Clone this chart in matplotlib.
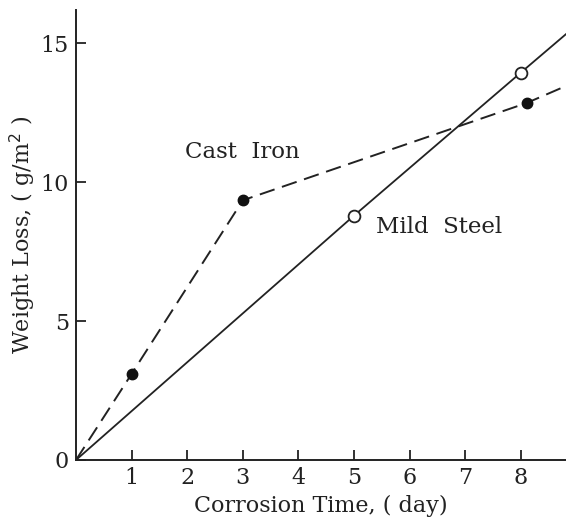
import matplotlib
matplotlib.use("Agg")
import matplotlib.pyplot as plt

# Data
cast_iron_x = [1, 3, 8.1]
cast_iron_y = [3.1, 9.35, 12.85]
cast_iron_line_x = [0, 1, 3, 8.1, 8.85]
cast_iron_line_y = [0, 3.1, 9.35, 12.85, 13.5]

mild_steel_x = [5, 8]
mild_steel_y = [8.8, 13.95]
mild_steel_line_x = [0, 5, 8, 8.85]
mild_steel_line_y = [0, 8.8, 13.95, 15.4]

x_ticks = [1, 2, 3, 4, 5, 6, 7, 8]
y_ticks = [0, 5, 10, 15]

plt.rcParams['font.family'] = ['DejaVu Serif']

fig = plt.figure(figsize=(5.66, 5.28), dpi=100)
ax = fig.add_axes([76/566, 68/528, 490/566, 450/528])

ax.plot(cast_iron_line_x, cast_iron_line_y, color='#222222', lw=1.4,
        linestyle=(0, (8, 4)), clip_on=True)
ax.plot(cast_iron_x, cast_iron_y, 'o', color='#111111', ms=7.5, zorder=3)

ax.plot(mild_steel_line_x, mild_steel_line_y, color='#222222', lw=1.3, clip_on=True)
ax.plot(mild_steel_x, mild_steel_y, 'o', mfc='white', mec='#222222', mew=1.3,
        ms=8.5, zorder=3)

ax.set_xlim(0, 8.81)
ax.set_ylim(0, 16.2)
ax.set_xticks(x_ticks)
ax.set_yticks(y_ticks)
ax.tick_params(direction='in', length=7, width=1.3, labelsize=16, colors='#222222',
               pad=5)
for s in ['top', 'right']:
    ax.spines[s].set_visible(False)
for s in ['left', 'bottom']:
    ax.spines[s].set_linewidth(1.4)
    ax.spines[s].set_color('#222222')

ax.text(1.96, 11.1, 'Cast  Iron', fontsize=16.5, va='center', ha='left', color='#222222')
ax.text(5.4, 8.4, 'Mild  Steel', fontsize=16.5, va='center', ha='left', color='#222222')

ax.set_xlabel('Corrosion Time, ( day)', fontsize=16, color='#222222', labelpad=4)
ax.set_ylabel('Weight Loss, ( g/m$^2$ )', fontsize=16, color='#222222', labelpad=2)

fig.savefig('out.png', dpi=100)
